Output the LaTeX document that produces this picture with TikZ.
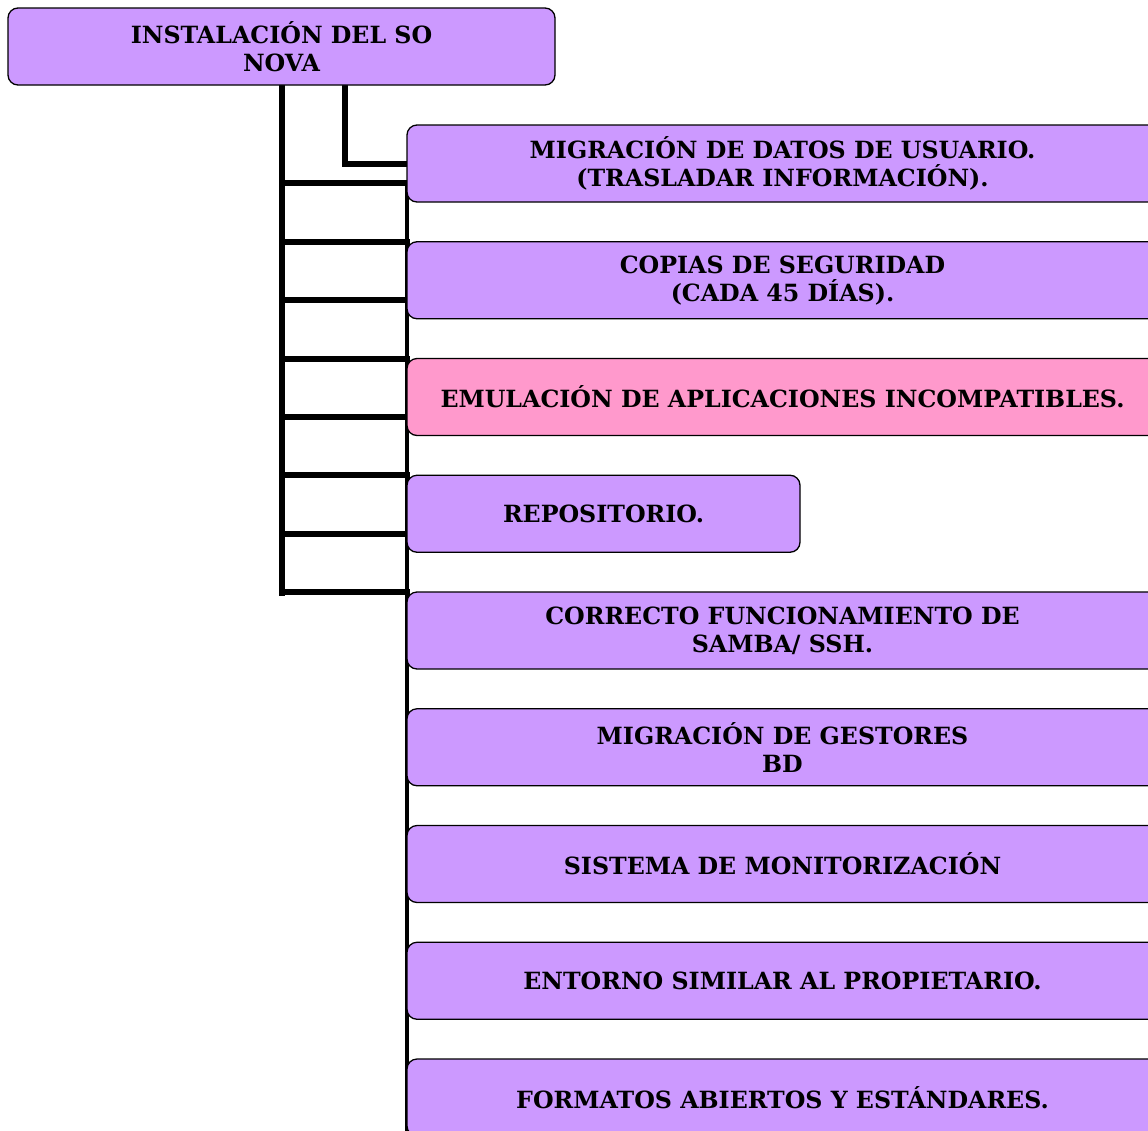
\documentclass[tikz,border=0pt]{standalone}
\usepackage{fontspec}
\setmainfont{DejaVu Serif}
\usetikzlibrary{
  backgrounds,
  positioning
}
\definecolor{lila}{RGB}{204,153,255}
\definecolor{rosa}{RGB}{255,153,204}
\tikzset{
  % Base box of the tree.
  box/.style={
    draw,
    line width=1.3pt,
    rounded corners=10pt,
    fill=lila,
    align=center,
    inner sep=0pt,
    outer sep=0pt,
    minimum height=77pt,
    font=\fontsize{23.7}{28}\selectfont\bfseries},
%
  % For the root box.
  root box/.style={
    box,
    minimum width=547pt},
%
  % For the wide child boxes.
  child box/.style={
    box,
    minimum width=751pt},
%
  % For the highlighted box.
  marked/.style={
    fill=rosa},
%
  % For the thick connector lines.
  link/.style={
    line width=6pt,
    line cap=rect},
%
  % For the thinner spine on the right.
  thin link/.style={
    line width=3.5pt}
}

\begin{document}
\begin{tikzpicture}[x=1pt, y=-1pt]
  \useasboundingbox (0,0) rectangle (1148,1130);

  \node[root box] (root) at (281.5,46.5) {INSTALACIÓN DEL SO\\NOVA};

  \node[child box] (migracion) at (782.5,163.5)
    {MIGRACIÓN DE DATOS DE USUARIO.\\(TRASLADAR INFORMACIÓN).};
  \node[child box, below=39.75pt of migracion] (copias)
    {COPIAS DE SEGURIDAD\\(CADA 45 DÍAS).};
  \node[child box, marked, below=39.75pt of copias] (emulacion)
    {EMULACIÓN DE APLICACIONES INCOMPATIBLES.};
  \node[box, minimum width=393pt, below=39.75pt of emulacion.south west,
    anchor=north west] (repositorio) {REPOSITORIO.};
  \node[child box, below=39.75pt of emulacion.south west |- repositorio.south,
    anchor=north west] (samba) {CORRECTO FUNCIONAMIENTO DE\\SAMBA/ SSH.};
  \node[child box, below=39.75pt of samba] (gestores)
    {MIGRACIÓN DE GESTORES\\BD};
  \node[child box, below=39.75pt of gestores] (monitor)
    {SISTEMA DE MONITORIZACIÓN};
  \node[child box, below=39.75pt of monitor] (entorno)
    {ENTORNO SIMILAR AL PROPIETARIO.};
  \node[child box, below=39.75pt of entorno] (formatos)
    {FORMATOS ABIERTOS Y ESTÁNDARES.};

  \begin{scope}[on background layer]
    \coordinate (spine) at (282,85);
    \coordinate (ladder end) at (282,593);
    \draw[link] (root.south -| spine) -- (ladder end);
    \draw[link] (root.south -| 345,0) |- (migracion.west);

    \foreach \k in {1,...,8}
      {\coordinate (rung\k) at (282,{125+58.4*\k});
       \draw[link] (rung\k) -- (rung\k -| migracion.west);}

    \draw[thin link] (rung1 -| migracion.west) -- (formatos.south west);
  \end{scope}
\end{tikzpicture}
\end{document}
